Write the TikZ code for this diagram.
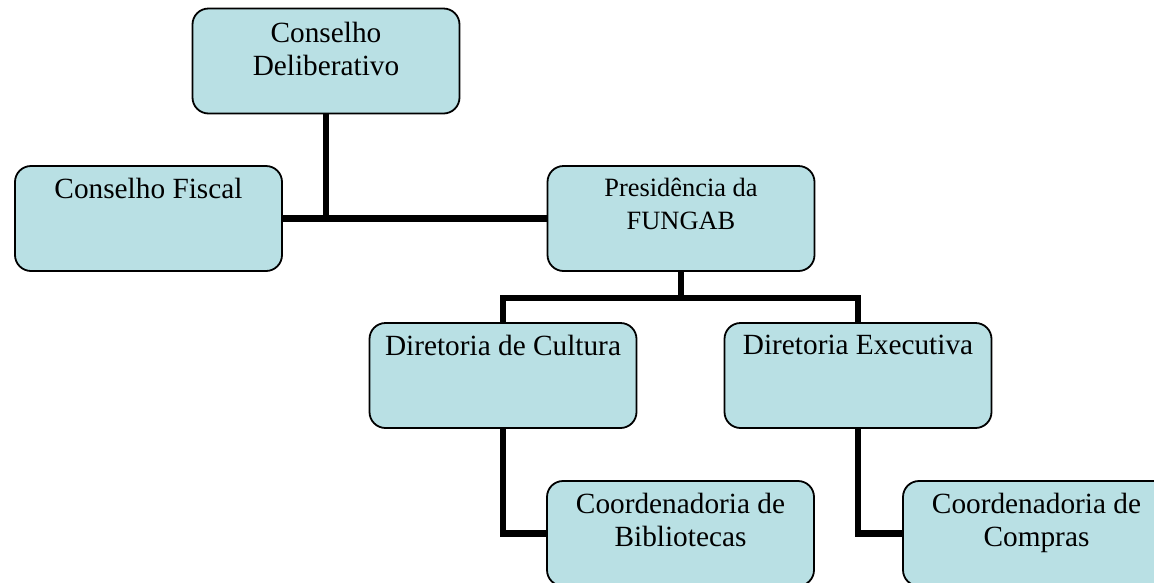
\documentclass[tikz,border=0pt]{standalone}
\usepackage{fontspec}
\setmainfont{Liberation Serif}
\definecolor{boxfill}{RGB}{185,224,228}
\tikzset{
  orgbox/.style={draw=black, line width=1.8pt, fill=boxfill, rounded corners=16pt,
    minimum width=267pt, minimum height=105pt, inner sep=0pt},
  orgtext/.style={anchor=north, inner sep=0pt, align=center,
    font=\fontsize{29.3}{33}\selectfont},
  smalltext/.style={orgtext, font=\fontsize{26.4}{33}\selectfont},
  wire/.style={line width=6.5pt, draw=black, line join=miter, line cap=butt}
}
\begin{document}
\begin{tikzpicture}[x=1pt, y=-1pt]
\path[use as bounding box] (0,0) rectangle (1154,582);
\clip (0,0) rectangle (1154,582);
% boxes
\node[orgbox] (cd) at (326,61) {};
\node[orgbox] (cf) at (148.5,218.5) {};
\node[orgbox] (cp) at (681,218.5) {};
\node[orgbox] (dc) at (503,375.5) {};
\node[orgbox] (de) at (858,375.5) {};
\node[orgbox] (cb) at (680.5,533.5) {};
\node[orgbox] (cc) at (1036.5,533.5) {};
\coordinate (bus) at (681,298);
% connectors
\draw[wire] (cf.east) -- (cp.west);
\draw[wire] (cd.south) -- (cd.south |- cf.east);
\draw[wire] (cp.south) -- (bus);
\draw[wire] (dc.north) |- (bus) -| (de.north);
\draw[wire] (dc.south) |- (cb.west);
\draw[wire] (de.south) |- (cc.west);
% texts
\node[orgtext] (tcd) at (326,22) {Conselho\\Deliberativo};
\node[orgtext] (tcf) at (148.5,178) {Conselho Fiscal};
\node[smalltext] (tcp) at (681,178) {Presidência da\\FUNGAB};
\node[orgtext] (tdc) at (503,335) {Diretoria de Cultura};
\node[orgtext] (tde) at (858,335) {Diretoria Executiva};
\node[orgtext] (tcb) at (680.5,493) {Coordenadoria de\\Bibliotecas};
\node[orgtext] (tcc) at (1036.5,493) {Coordenadoria de\\Compras};
\end{tikzpicture}
\end{document}
